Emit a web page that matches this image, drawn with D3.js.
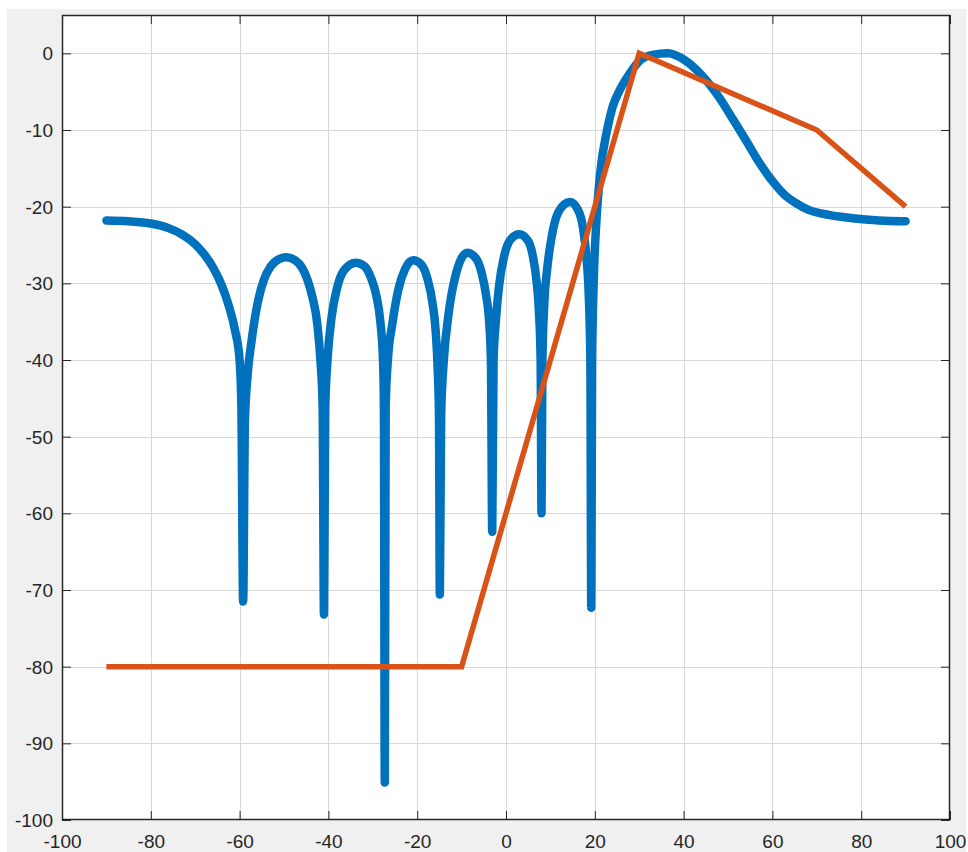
<!DOCTYPE html>
<html>
<head>
<meta charset="utf-8">
<script src="https://cdn.jsdelivr.net/npm/d3@7"></script>
<style>
  html, body { margin: 0; padding: 0; background: #fff; }
  svg { display: block; }
</style>
</head>
<body>
<div id="chart"></div>
<script>
// beam pattern (angle in degrees, level in dB)
const patternAngle = [
  -90, -85, -80, -76, -73, -70, -68, -66, -64, -62.5, -61, -60, -59.6, -59.2, -58.8, -58.2, -57.3, -55.8, -54.5, -53,
  -51, -49.5, -47.5, -46, -44.8, -43.6, -42.5, -41.8, -41.3, -41.0, -40.7, -40.2, -39.3, -38, -36.5, -33.8,
  -31.8, -30.4, -29.2, -28.3, -27.7, -27.5, -27.3, -27.1, -26.6, -25.6, -24.2, -22.7, -20.9,
  -19, -17.7, -16.6, -15.8, -15.4, -15.1, -14.9, -14.6, -14.0, -13.0, -11.5, -8.7,
  -6.7, -5.5, -4.5, -3.8, -3.4, -3.1, -2.8, -2.3, -1.6, -0.4, 1.0, 3.0,
  4.9, 6.0, 6.9, 7.4, 7.8, 8.0, 8.2, 8.6, 9.3, 10.3, 11.8, 14.4,
  16.2, 17.3, 18.1, 18.6, 19.0, 19.2, 19.4, 19.8, 20.4, 21.2, 22.7, 24.0, 25.7, 27.9, 30.2,
  33, 36.5, 40, 43, 45.5, 48.2, 51, 54.2, 57, 60.2, 63, 65.5, 68, 73, 78, 84, 90
];
const patternLevel = [
  -21.8, -21.9, -22.2, -22.8, -23.6, -24.9, -26.2, -27.9, -30.3, -32.8, -36.2, -40, -46, -71.5, -48, -42, -37.5, -32.2, -29.5, -27.8,
  -26.8, -26.6, -27.0, -27.9, -29.4, -31.8, -35.3, -40, -46, -73.2, -46, -40, -34.5, -30.5, -28.3, -27.3,
  -27.8, -29.3, -31.6, -35, -40, -46, -95.1, -46, -40, -35.3, -30.7, -28.1, -27.0,
  -27.6, -29.4, -32.4, -36.5, -41, -47, -70.6, -47, -40, -34.3, -29.3, -26.0,
  -26.8, -28.6, -31.5, -35, -40, -62.4, -40, -35, -30.5, -26.4, -24.3, -23.6,
  -24.4, -26.3, -29.8, -33.5, -40, -60, -40, -33, -28, -23.9, -20.7, -19.4,
  -20.4, -22.6, -26.5, -31, -40, -72.3, -40, -29, -21.5, -15.7, -10.2, -7, -4.7, -2.6, -0.9,
  -0.2, 0, -0.8, -2.2, -3.8, -5.9, -8.5, -11.5, -14.2, -16.8, -18.6, -19.6, -20.4, -21.1, -21.5, -21.8, -21.9
];

// mask line
const maskAngle = [-90, -10, 30, 70, 90];
const maskLevel = [-80, -80, 0, -10, -20];

// ticks
const xTicks = [-100, -80, -60, -40, -20, 0, 20, 40, 60, 80, 100];
const yTicks = [0, -10, -20, -30, -40, -50, -60, -70, -80, -90, -100];

const W = 968, H = 852;
const plot = { left: 62, top: 15, right: 950, bottom: 820 };

const svg = d3.select("#chart").append("svg")
    .attr("width", W)
    .attr("height", H);

// figure background
svg.append("rect")
    .attr("width", W).attr("height", H)
    .attr("fill", "#ffffff");
svg.append("rect")
    .attr("x", 7).attr("y", 9)
    .attr("width", 959).attr("height", H - 9)
    .attr("fill", "#f0f0f0");

const x = d3.scaleLinear().domain([-100, 100]).range([plot.left, plot.right]);
const y = d3.scaleLinear().domain([-100, 5]).range([plot.bottom, plot.top]);

svg.append("rect")
    .attr("x", plot.left).attr("y", plot.top)
    .attr("width", plot.right - plot.left)
    .attr("height", plot.bottom - plot.top)
    .attr("fill", "#ffffff");

// grid
const grid = svg.append("g").attr("class", "grid");
grid.selectAll(".gx")
    .data(xTicks.slice(1, -1))
    .join("line")
    .attr("class", "gx")
    .attr("x1", d => Math.round(x(d)) + 0.5).attr("x2", d => Math.round(x(d)) + 0.5)
    .attr("y1", plot.top).attr("y2", plot.bottom)
    .attr("stroke", "#d8d8d8").attr("stroke-width", 1);
grid.selectAll(".gy")
    .data(yTicks.slice(0, -1))
    .join("line")
    .attr("class", "gy")
    .attr("y1", d => Math.round(y(d)) + 0.5).attr("y2", d => Math.round(y(d)) + 0.5)
    .attr("x1", plot.left).attr("x2", plot.right)
    .attr("stroke", "#d8d8d8").attr("stroke-width", 1);

// curves
svg.append("clipPath").attr("id", "clip")
    .append("rect")
    .attr("x", plot.left).attr("y", plot.top)
    .attr("width", plot.right - plot.left)
    .attr("height", plot.bottom - plot.top);

const pattern = patternAngle.map((a, i) => ({ a: a, v: patternLevel[i] }));
const mask = maskAngle.map((a, i) => ({ a: a, v: maskLevel[i] }));

const patternLine = d3.line()
    .x(d => x(d.a))
    .y(d => y(d.v))
    .curve(d3.curveMonotoneX);

const maskLine = d3.line()
    .x(d => x(d.a))
    .y(d => y(d.v));

const lines = svg.append("g").attr("clip-path", "url(#clip)");

lines.append("path")
    .datum(pattern)
    .attr("d", patternLine)
    .attr("fill", "none")
    .attr("stroke", "#0072BD")
    .attr("stroke-width", 8.5)
    .attr("stroke-linejoin", "round")
    .attr("stroke-linecap", "round");

lines.append("path")
    .datum(mask)
    .attr("d", maskLine)
    .attr("fill", "none")
    .attr("stroke", "#D95319")
    .attr("stroke-width", 5.5)
    .attr("stroke-linejoin", "miter");

// axes, ticks pointing inward, mirrored on all sides
const tickLen = 9;
const fmt = d => String(d);

const axB = svg.append("g")
    .attr("transform", `translate(0,${plot.bottom})`)
    .call(d3.axisBottom(x).tickValues(xTicks).tickSize(-tickLen).tickPadding(15).tickFormat(fmt));
const axT = svg.append("g")
    .attr("transform", `translate(0,${plot.top})`)
    .call(d3.axisTop(x).tickValues(xTicks).tickSize(-tickLen).tickFormat(""));
const axL = svg.append("g")
    .attr("transform", `translate(${plot.left},0)`)
    .call(d3.axisLeft(y).tickValues(yTicks).tickSize(-tickLen).tickPadding(9).tickFormat(fmt));
const axR = svg.append("g")
    .attr("transform", `translate(${plot.right},0)`)
    .call(d3.axisRight(y).tickValues(yTicks).tickSize(-tickLen).tickFormat(""));

[axB, axT, axL, axR].forEach(g => {
    g.select(".domain").remove();
    g.selectAll(".tick line").attr("stroke", "#262626").attr("stroke-width", 1);
    g.selectAll("text")
        .attr("fill", "#262626")
        .style("font-family", "'Liberation Sans', Arial, sans-serif")
        .style("font-size", "19px");
});
axB.selectAll("text").attr("dy", "0.71em");
axL.selectAll("text").attr("dy", "0.35em");

svg.append("rect")
    .attr("x", plot.left + 0.5).attr("y", plot.top + 0.5)
    .attr("width", plot.right - plot.left - 1)
    .attr("height", plot.bottom - plot.top - 1)
    .attr("fill", "none")
    .attr("stroke", "#262626")
    .attr("stroke-width", 1.5);
</script>
</body>
</html>
